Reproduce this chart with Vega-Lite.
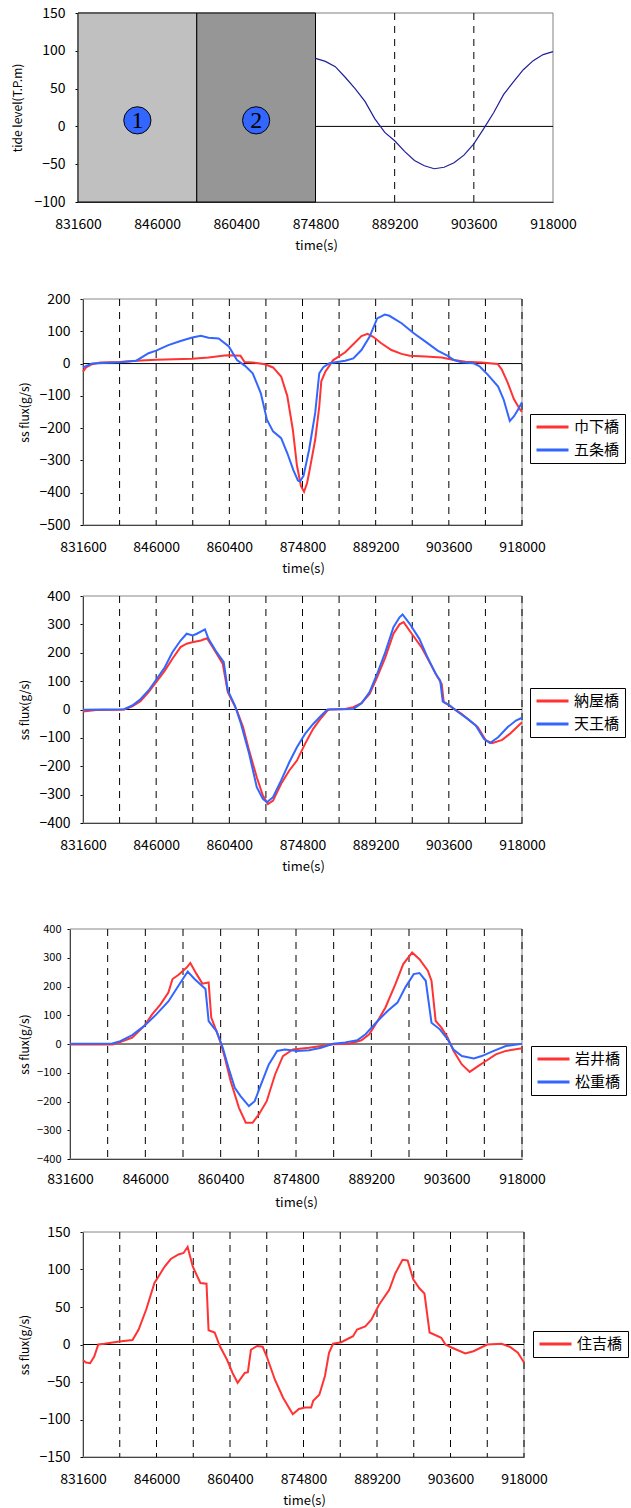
{
"$schema": "https://vega.github.io/schema/vega-lite/v6.json",
"background": "white",
"padding": {"left": 11, "top": 6, "right": 0, "bottom": 0},
"spacing": 0,
"resolve": {"scale": {"x": "independent", "y": "independent", "color": "independent", "fill": "independent"}},
"datasets": {
"frame": [{"t":831600,"t2":918000}],
"zero": [{"t":831600,"t2":918000,"v":0}],
"dash": [{"t":838800},{"t":846000},{"t":853200},{"t":860400},{"t":867600},{"t":874800},{"t":882000},{"t":889200},{"t":896400},{"t":903600},{"t":910800},{"t":918000}],
"dash1": [{"t":889200},{"t":903600}],
"regions": [{"a":831600,"b":853200,"c":"1"},{"a":853200,"b":874800,"c":"2"}],
"markers": [{"t":842400,"v":8,"c":"1"},{"t":864000,"v":8,"c":"2"}],
"tide": [{"t":874800,"v":90},{"t":876600,"v":86},{"t":878400,"v":79},{"t":880200,"v":65},{"t":882000,"v":50},{"t":883800,"v":33},{"t":885600,"v":10},{"t":887400,"v":-8},{"t":889200,"v":-19},{"t":891000,"v":-33},{"t":892800,"v":-45},{"t":894600,"v":-52},{"t":896400,"v":-56},{"t":898200,"v":-54},{"t":900000,"v":-48},{"t":901800,"v":-38},{"t":903600,"v":-23},{"t":905400,"v":-3},{"t":907200,"v":18},{"t":909000,"v":42},{"t":910800,"v":59},{"t":912600,"v":75},{"t":914400,"v":87},{"t":916200,"v":95},{"t":918000,"v":99}],
"p2": [
{"s":"巾下橋","t":831600,"v":-25},{"s":"巾下橋","t":832200,"v":-12},{"s":"巾下橋","t":833400,"v":-2},{"s":"巾下橋","t":835000,"v":3},{"s":"巾下橋","t":838800,"v":5},{"s":"巾下橋","t":842100,"v":9},{"s":"巾下橋","t":846000,"v":12},{"s":"巾下橋","t":853100,"v":15},{"s":"巾下橋","t":856300,"v":19},{"s":"巾下橋","t":859500,"v":25},{"s":"巾下橋","t":860300,"v":26},{"s":"巾下橋","t":862600,"v":24},{"s":"巾下橋","t":863400,"v":5},{"s":"巾下橋","t":865800,"v":2},{"s":"巾下橋","t":867400,"v":-2},{"s":"巾下橋","t":869000,"v":-12},{"s":"巾下橋","t":870600,"v":-40},{"s":"巾下橋","t":871800,"v":-100},{"s":"巾下橋","t":872900,"v":-205},{"s":"巾下橋","t":873700,"v":-315},{"s":"巾下橋","t":874500,"v":-380},{"s":"巾下橋","t":875100,"v":-397},{"s":"巾下橋","t":875700,"v":-370},{"s":"巾下橋","t":876200,"v":-330},{"s":"巾下橋","t":877300,"v":-236},{"s":"巾下橋","t":878100,"v":-133},{"s":"巾下橋","t":878500,"v":-55},{"s":"巾下橋","t":879300,"v":-25},{"s":"巾下橋","t":880800,"v":10},{"s":"巾下橋","t":883200,"v":35},{"s":"巾下橋","t":884800,"v":60},{"s":"巾下橋","t":886400,"v":85},{"s":"巾下橋","t":887600,"v":92},{"s":"巾下橋","t":888700,"v":83},{"s":"巾下橋","t":890300,"v":63},{"s":"巾下橋","t":892300,"v":42},{"s":"巾下橋","t":894300,"v":30},{"s":"巾下橋","t":895900,"v":24},{"s":"巾下橋","t":899000,"v":22},{"s":"巾下橋","t":902200,"v":19},{"s":"巾下橋","t":904600,"v":11},{"s":"巾下橋","t":906900,"v":6},{"s":"巾下橋","t":910100,"v":3},{"s":"巾下橋","t":913200,"v":-1},{"s":"巾下橋","t":914000,"v":-18},{"s":"巾下橋","t":915200,"v":-60},{"s":"巾下橋","t":916400,"v":-110},{"s":"巾下橋","t":917600,"v":-142},{"s":"巾下橋","t":918000,"v":-150},
{"s":"五条橋","t":831600,"v":-12},{"s":"五条橋","t":833400,"v":0},{"s":"五条橋","t":838800,"v":4},{"s":"五条橋","t":842100,"v":9},{"s":"五条橋","t":844500,"v":32},{"s":"五条橋","t":846000,"v":40},{"s":"五条橋","t":848400,"v":57},{"s":"五条橋","t":850800,"v":70},{"s":"五条橋","t":853100,"v":81},{"s":"五条橋","t":854800,"v":86},{"s":"五条橋","t":856300,"v":80},{"s":"五条橋","t":858300,"v":78},{"s":"五条橋","t":860300,"v":53},{"s":"五条橋","t":861900,"v":11},{"s":"五条橋","t":863500,"v":-7},{"s":"五条橋","t":865000,"v":-30},{"s":"五条橋","t":866600,"v":-92},{"s":"五条橋","t":867800,"v":-174},{"s":"五条橋","t":869000,"v":-210},{"s":"五条橋","t":870600,"v":-231},{"s":"五条橋","t":871800,"v":-277},{"s":"五条橋","t":873000,"v":-330},{"s":"五条橋","t":873900,"v":-362},{"s":"五条橋","t":874300,"v":-365},{"s":"五条橋","t":875000,"v":-348},{"s":"五条橋","t":876100,"v":-267},{"s":"五条橋","t":877300,"v":-153},{"s":"五条橋","t":878100,"v":-30},{"s":"五条橋","t":878900,"v":-11},{"s":"五条橋","t":880100,"v":1},{"s":"五条橋","t":883200,"v":9},{"s":"五条橋","t":884800,"v":16},{"s":"五条橋","t":886400,"v":42},{"s":"五条橋","t":888000,"v":83},{"s":"五条橋","t":889500,"v":140},{"s":"五条橋","t":891000,"v":152},{"s":"五条橋","t":891900,"v":148},{"s":"五条橋","t":894300,"v":125},{"s":"五条橋","t":896700,"v":94},{"s":"五条橋","t":899000,"v":68},{"s":"五条橋","t":901400,"v":40},{"s":"五条橋","t":903400,"v":24},{"s":"五条橋","t":904600,"v":11},{"s":"五条橋","t":906100,"v":4},{"s":"五条橋","t":908500,"v":1},{"s":"五条橋","t":909700,"v":-9},{"s":"五条橋","t":911300,"v":-35},{"s":"五条橋","t":913300,"v":-71},{"s":"五条橋","t":914400,"v":-112},{"s":"五条橋","t":915600,"v":-178},{"s":"五条橋","t":916400,"v":-164},{"s":"五条橋","t":917200,"v":-143},{"s":"五条橋","t":918000,"v":-120}],
"p3": [
{"s":"納屋橋","t":831600,"v":-7},{"s":"納屋橋","t":834200,"v":-2},{"s":"納屋橋","t":838800,"v":-1},{"s":"納屋橋","t":839700,"v":0},{"s":"納屋橋","t":841300,"v":11},{"s":"納屋橋","t":842900,"v":29},{"s":"納屋橋","t":844500,"v":61},{"s":"納屋橋","t":846000,"v":96},{"s":"納屋橋","t":847700,"v":137},{"s":"納屋橋","t":849200,"v":179},{"s":"納屋橋","t":850800,"v":220},{"s":"納屋橋","t":852000,"v":232},{"s":"納屋橋","t":853100,"v":237},{"s":"納屋橋","t":854800,"v":243},{"s":"納屋橋","t":856000,"v":251},{"s":"納屋橋","t":857100,"v":220},{"s":"納屋橋","t":859100,"v":161},{"s":"納屋橋","t":860100,"v":61},{"s":"納屋橋","t":861900,"v":-4},{"s":"納屋橋","t":863100,"v":-62},{"s":"納屋橋","t":864300,"v":-145},{"s":"納屋橋","t":865800,"v":-239},{"s":"納屋橋","t":867000,"v":-303},{"s":"納屋橋","t":868000,"v":-333},{"s":"納屋橋","t":869000,"v":-321},{"s":"納屋橋","t":870600,"v":-262},{"s":"納屋橋","t":872200,"v":-215},{"s":"納屋橋","t":873700,"v":-180},{"s":"納屋橋","t":875300,"v":-121},{"s":"納屋橋","t":876900,"v":-68},{"s":"納屋橋","t":878500,"v":-29},{"s":"納屋橋","t":879700,"v":-4},{"s":"納屋橋","t":880100,"v":0},{"s":"納屋橋","t":883200,"v":2},{"s":"納屋橋","t":884800,"v":8},{"s":"納屋橋","t":886400,"v":22},{"s":"納屋橋","t":888000,"v":55},{"s":"納屋橋","t":889500,"v":114},{"s":"納屋橋","t":891100,"v":184},{"s":"納屋橋","t":892700,"v":267},{"s":"納屋橋","t":893900,"v":300},{"s":"納屋橋","t":894700,"v":308},{"s":"納屋橋","t":896300,"v":267},{"s":"納屋橋","t":898200,"v":220},{"s":"納屋橋","t":899800,"v":167},{"s":"納屋橋","t":901400,"v":114},{"s":"納屋橋","t":902200,"v":90},{"s":"納屋橋","t":902600,"v":26},{"s":"納屋橋","t":903400,"v":18},{"s":"納屋橋","t":904600,"v":2},{"s":"納屋橋","t":906100,"v":-15},{"s":"納屋橋","t":907700,"v":-39},{"s":"納屋橋","t":909300,"v":-62},{"s":"納屋橋","t":910900,"v":-109},{"s":"納屋橋","t":912100,"v":-119},{"s":"納屋橋","t":914100,"v":-107},{"s":"納屋橋","t":915600,"v":-86},{"s":"納屋橋","t":918000,"v":-45},
{"s":"天王橋","t":831600,"v":-1},{"s":"天王橋","t":839700,"v":1},{"s":"天王橋","t":841300,"v":14},{"s":"天王橋","t":842900,"v":36},{"s":"天王橋","t":844500,"v":67},{"s":"天王橋","t":846000,"v":105},{"s":"天王橋","t":847700,"v":149},{"s":"天王橋","t":849200,"v":202},{"s":"天王橋","t":850800,"v":243},{"s":"天王橋","t":852000,"v":267},{"s":"天王橋","t":853200,"v":261},{"s":"天王橋","t":854000,"v":267},{"s":"天王橋","t":855600,"v":282},{"s":"天王橋","t":856300,"v":249},{"s":"天王橋","t":857900,"v":202},{"s":"天王橋","t":859300,"v":167},{"s":"天王橋","t":860100,"v":67},{"s":"天王橋","t":861500,"v":14},{"s":"天王橋","t":862700,"v":-51},{"s":"天王橋","t":864300,"v":-156},{"s":"天王橋","t":865800,"v":-274},{"s":"天王橋","t":867000,"v":-315},{"s":"天王橋","t":867800,"v":-327},{"s":"天王橋","t":869000,"v":-309},{"s":"天王橋","t":870600,"v":-250},{"s":"天王橋","t":872200,"v":-186},{"s":"天王橋","t":873700,"v":-133},{"s":"天王橋","t":875300,"v":-86},{"s":"天王橋","t":876900,"v":-51},{"s":"天王橋","t":878500,"v":-21},{"s":"天王橋","t":879700,"v":0},{"s":"天王橋","t":884800,"v":2},{"s":"天王橋","t":886400,"v":22},{"s":"天王橋","t":888000,"v":61},{"s":"天王橋","t":889500,"v":126},{"s":"天王橋","t":891100,"v":202},{"s":"天王橋","t":892700,"v":290},{"s":"天王橋","t":893900,"v":325},{"s":"天王橋","t":894500,"v":335},{"s":"天王橋","t":895900,"v":302},{"s":"天王橋","t":897800,"v":249},{"s":"天王橋","t":899400,"v":184},{"s":"天王橋","t":901000,"v":126},{"s":"天王橋","t":901900,"v":102},{"s":"天王橋","t":902400,"v":29},{"s":"天王橋","t":903800,"v":14},{"s":"天王橋","t":905400,"v":-9},{"s":"天王橋","t":907300,"v":-33},{"s":"天王橋","t":908900,"v":-56},{"s":"天王橋","t":910500,"v":-103},{"s":"天王橋","t":911700,"v":-118},{"s":"天王橋","t":913300,"v":-98},{"s":"天王橋","t":915200,"v":-62},{"s":"天王橋","t":916800,"v":-39},{"s":"天王橋","t":918000,"v":-29}],
"p4": [
{"s":"岩井橋","t":831600,"v":-2},{"s":"岩井橋","t":839700,"v":-2},{"s":"岩井橋","t":841200,"v":7},{"s":"岩井橋","t":843500,"v":22},{"s":"岩井橋","t":845800,"v":63},{"s":"岩井橋","t":847300,"v":103},{"s":"岩井橋","t":848900,"v":138},{"s":"岩井橋","t":850400,"v":179},{"s":"岩井橋","t":851200,"v":226},{"s":"岩井橋","t":852300,"v":240},{"s":"岩井橋","t":853900,"v":266},{"s":"岩井橋","t":854600,"v":282},{"s":"岩井橋","t":855800,"v":243},{"s":"岩井橋","t":856900,"v":210},{"s":"岩井橋","t":858100,"v":214},{"s":"岩井橋","t":858600,"v":92},{"s":"岩井橋","t":859600,"v":45},{"s":"岩井橋","t":860400,"v":5},{"s":"岩井橋","t":861200,"v":-48},{"s":"岩井橋","t":862300,"v":-129},{"s":"岩井橋","t":863900,"v":-222},{"s":"岩井橋","t":865200,"v":-274},{"s":"岩井橋","t":866500,"v":-274},{"s":"岩井橋","t":867700,"v":-245},{"s":"岩井橋","t":869200,"v":-199},{"s":"岩井橋","t":870800,"v":-106},{"s":"岩井橋","t":872300,"v":-42},{"s":"岩井橋","t":874200,"v":-19},{"s":"岩井橋","t":877300,"v":-13},{"s":"岩井橋","t":879600,"v":-7},{"s":"岩井橋","t":881900,"v":-1},{"s":"岩井橋","t":885000,"v":1},{"s":"岩井橋","t":887300,"v":13},{"s":"岩井橋","t":888800,"v":34},{"s":"岩井橋","t":890400,"v":80},{"s":"岩井橋","t":891900,"v":127},{"s":"岩井橋","t":893800,"v":208},{"s":"岩井橋","t":895300,"v":278},{"s":"岩井橋","t":897000,"v":318},{"s":"岩井橋","t":898400,"v":295},{"s":"岩井橋","t":900000,"v":255},{"s":"岩井橋","t":900700,"v":220},{"s":"岩井橋","t":901500,"v":80},{"s":"岩井橋","t":902600,"v":57},{"s":"岩井橋","t":903800,"v":22},{"s":"岩井橋","t":904900,"v":-24},{"s":"岩井橋","t":906500,"v":-71},{"s":"岩井橋","t":908000,"v":-97},{"s":"岩井橋","t":909600,"v":-77},{"s":"岩井橋","t":911100,"v":-59},{"s":"岩井橋","t":913000,"v":-36},{"s":"岩井橋","t":914900,"v":-24},{"s":"岩井橋","t":918000,"v":-15},
{"s":"松重橋","t":831600,"v":1},{"s":"松重橋","t":839700,"v":2},{"s":"松重橋","t":841200,"v":10},{"s":"松重橋","t":843500,"v":31},{"s":"松重橋","t":845800,"v":63},{"s":"松重橋","t":848100,"v":103},{"s":"松重橋","t":850400,"v":148},{"s":"松重橋","t":852300,"v":202},{"s":"松重橋","t":854100,"v":252},{"s":"松重橋","t":855400,"v":226},{"s":"松重橋","t":857500,"v":191},{"s":"松重橋","t":858100,"v":80},{"s":"松重橋","t":859600,"v":45},{"s":"松重橋","t":860800,"v":-13},{"s":"松重橋","t":861900,"v":-83},{"s":"松重橋","t":863100,"v":-152},{"s":"松重橋","t":864200,"v":-181},{"s":"松重橋","t":865800,"v":-216},{"s":"松重橋","t":866900,"v":-199},{"s":"松重橋","t":868100,"v":-141},{"s":"松重橋","t":869600,"v":-71},{"s":"松重橋","t":871200,"v":-24},{"s":"松重橋","t":872700,"v":-19},{"s":"松重橋","t":875000,"v":-24},{"s":"松重橋","t":877300,"v":-22},{"s":"松重橋","t":879600,"v":-13},{"s":"松重橋","t":881900,"v":1},{"s":"松重橋","t":884200,"v":5},{"s":"松重橋","t":886500,"v":13},{"s":"松重橋","t":888100,"v":34},{"s":"松重橋","t":890400,"v":80},{"s":"松重橋","t":892300,"v":115},{"s":"松重橋","t":894200,"v":144},{"s":"松重橋","t":895700,"v":197},{"s":"松重橋","t":897300,"v":243},{"s":"松重橋","t":898400,"v":247},{"s":"松重橋","t":899600,"v":220},{"s":"松重橋","t":900700,"v":74},{"s":"松重橋","t":902300,"v":51},{"s":"松重橋","t":903800,"v":16},{"s":"松重橋","t":904900,"v":-19},{"s":"松重橋","t":906500,"v":-42},{"s":"松重橋","t":908800,"v":-50},{"s":"松重橋","t":910300,"v":-42},{"s":"松重橋","t":912600,"v":-24},{"s":"松重橋","t":914900,"v":-7},{"s":"松重橋","t":918000,"v":1}],
"p5": [
{"s":"住吉橋","t":831600,"v":-21},{"s":"住吉橋","t":832200,"v":-24},{"s":"住吉橋","t":833000,"v":-25},{"s":"住吉橋","t":833800,"v":-16},{"s":"住吉橋","t":834600,"v":0},{"s":"住吉橋","t":835800,"v":1},{"s":"住吉橋","t":838700,"v":4},{"s":"住吉橋","t":841300,"v":6},{"s":"住吉橋","t":842500,"v":20},{"s":"住吉橋","t":844000,"v":47},{"s":"住吉橋","t":845600,"v":82},{"s":"住吉橋","t":847600,"v":104},{"s":"住吉橋","t":848800,"v":114},{"s":"住吉橋","t":850300,"v":120},{"s":"住吉橋","t":851300,"v":122},{"s":"住吉橋","t":852100,"v":130},{"s":"住吉橋","t":853100,"v":104},{"s":"住吉橋","t":854600,"v":82},{"s":"住吉橋","t":855800,"v":81},{"s":"住吉橋","t":856200,"v":19},{"s":"住吉橋","t":857400,"v":16},{"s":"住吉橋","t":858400,"v":-2},{"s":"住吉橋","t":859800,"v":-20},{"s":"住吉橋","t":860900,"v":-38},{"s":"住吉橋","t":861900,"v":-51},{"s":"住吉橋","t":863300,"v":-38},{"s":"住吉橋","t":863900,"v":-37},{"s":"住吉橋","t":864500,"v":-7},{"s":"住吉橋","t":865700,"v":-2},{"s":"住吉橋","t":866800,"v":-3},{"s":"住吉橋","t":867600,"v":-16},{"s":"住吉橋","t":869200,"v":-47},{"s":"住吉橋","t":870800,"v":-71},{"s":"住吉橋","t":872700,"v":-93},{"s":"住吉橋","t":873900,"v":-86},{"s":"住吉橋","t":875100,"v":-84},{"s":"住吉橋","t":876300,"v":-84},{"s":"住吉橋","t":876700,"v":-75},{"s":"住吉橋","t":877900,"v":-67},{"s":"住吉橋","t":879000,"v":-42},{"s":"住吉橋","t":879800,"v":-11},{"s":"住吉橋","t":880600,"v":1},{"s":"住吉橋","t":882200,"v":3},{"s":"住吉橋","t":884500,"v":11},{"s":"住吉橋","t":885300,"v":20},{"s":"住吉橋","t":886900,"v":24},{"s":"住吉橋","t":888100,"v":33},{"s":"住吉橋","t":889600,"v":53},{"s":"住吉橋","t":891600,"v":73},{"s":"住吉橋","t":892800,"v":95},{"s":"住吉橋","t":894200,"v":113},{"s":"住吉橋","t":895200,"v":112},{"s":"住吉橋","t":896300,"v":87},{"s":"住吉橋","t":897500,"v":75},{"s":"住吉橋","t":898500,"v":68},{"s":"住吉橋","t":899500,"v":16},{"s":"住吉橋","t":901800,"v":9},{"s":"住吉橋","t":902600,"v":0},{"s":"住吉橋","t":903800,"v":-4},{"s":"住吉橋","t":906500,"v":-12},{"s":"住吉橋","t":908100,"v":-9},{"s":"住吉橋","t":910800,"v":0},{"s":"住吉橋","t":913600,"v":1},{"s":"住吉橋","t":915200,"v":-3},{"s":"住吉橋","t":916800,"v":-11},{"s":"住吉橋","t":918000,"v":-24}]
},
"vconcat": [
{
"width": 483, "height": 189,
"encoding": {
  "x": {"field": "t", "type": "quantitative", "scale": {"domain": [831600, 918000], "range": [8, 483], "nice": false, "zero": false},
        "axis": {"values": [831600,846000,860400,874800,889200,903600,918000], "format": "d", "title": "time(s)", "titleX": 246, "labelOverlap": false}},
  "y": {"field": "v", "type": "quantitative", "scale": {"domain": [-100, 150], "nice": false, "zero": false},
        "axis": {"values": [-100,-50,0,50,100,150], "format": "d", "title": "tide level(T.P.m)", "offset": -8, "titleX": -61, "labelOverlap": false}}
},
"layer": [
{"data": {"name": "frame"}, "mark": {"type": "rect", "fill": "transparent", "stroke": "#808080", "strokeWidth": 1},
 "encoding": {"x2": {"field": "t2"}, "y": null}},
{"data": {"name": "zero"}, "mark": {"type": "rule", "color": "black", "strokeWidth": 1},
 "encoding": {"x2": {"field": "t2"}}},
{"data": {"name": "regions"}, "mark": {"type": "rect", "stroke": "black", "strokeWidth": 1, "opacity": 1},
 "encoding": {"x": {"field": "a"}, "x2": {"field": "b"}, "y": null,
  "fill": {"field": "c", "type": "nominal", "scale": {"domain": ["1","2"], "range": ["#C0C0C0", "#969696"]}, "legend": null}}},
{"data": {"name": "dash1"}, "mark": {"type": "rule", "color": "black", "strokeWidth": 1, "strokeDash": [7, 6]},
 "encoding": {"y": null}},
{"data": {"name": "tide"}, "mark": {"type": "line", "color": "#1F1F99", "strokeWidth": 1.2}},
{"data": {"name": "markers"}, "mark": {"type": "point", "shape": "circle", "filled": true, "fill": "#3366FF", "stroke": "black", "strokeWidth": 1, "size": 740, "opacity": 1}},
{"data": {"name": "markers"}, "mark": {"type": "text", "font": "Liberation Serif", "fontSize": 24, "color": "black", "baseline": "middle", "align": "center", "dy": 1},
 "encoding": {"text": {"field": "c"}}}
]
},
{
"width": 452, "height": 226,
"title": {"text": " ", "offset": 30, "fontSize": 10},
"encoding": {
  "x": {"field": "t", "type": "quantitative", "scale": {"domain": [831600, 918000], "range": [13, 452], "nice": false, "zero": false},
        "axis": {"values": [831600,846000,860400,874800,889200,903600,918000], "format": "d", "title": "time(s)", "titleX": 233, "labelOverlap": false}},
  "y": {"field": "v", "type": "quantitative", "scale": {"domain": [-500, 200], "nice": false, "zero": false},
        "axis": {"values": [-500,-400,-300,-200,-100,0,100,200], "format": "d", "title": "ss flux(g/s)", "offset": -13, "titleX": -59, "labelOverlap": false}}
},
"layer": [
{"data": {"name": "frame"}, "mark": {"type": "rect", "fill": "transparent", "stroke": "#888888", "strokeWidth": 1},
 "encoding": {"x2": {"field": "t2"}, "y": null}},
{"data": {"name": "zero"}, "mark": {"type": "rule", "color": "black", "strokeWidth": 1},
 "encoding": {"x2": {"field": "t2"}}},
{"data": {"name": "dash"}, "mark": {"type": "rule", "color": "black", "strokeWidth": 1, "strokeDash": [7, 6]},
 "encoding": {"y": null}},
{"data": {"name": "p2"}, "mark": {"type": "line", "strokeWidth": 2},
 "encoding": {
  "color": {"field": "s", "type": "nominal", "scale": {"domain": ["巾下橋", "五条橋"], "range": ["#FF3333", "#3366FF"]},
   "legend": {"orient": "none", "legendX": 460, "legendY": 115}}}}
]
},
{
"width": 452, "height": 227,
"title": {"text": " ", "offset": 4, "fontSize": 10},
"encoding": {
  "x": {"field": "t", "type": "quantitative", "scale": {"domain": [831600, 918000], "range": [13, 452], "nice": false, "zero": false},
        "axis": {"values": [831600,846000,860400,874800,889200,903600,918000], "format": "d", "title": "time(s)", "titleX": 233, "labelOverlap": false}},
  "y": {"field": "v", "type": "quantitative", "scale": {"domain": [-400, 400], "nice": false, "zero": false},
        "axis": {"values": [-400,-300,-200,-100,0,100,200,300,400], "format": "d", "title": "ss flux(g/s)", "offset": -13, "titleX": -59, "labelOverlap": false}}
},
"layer": [
{"data": {"name": "frame"}, "mark": {"type": "rect", "fill": "transparent", "stroke": "#888888", "strokeWidth": 1},
 "encoding": {"x2": {"field": "t2"}, "y": null}},
{"data": {"name": "zero"}, "mark": {"type": "rule", "color": "black", "strokeWidth": 1},
 "encoding": {"x2": {"field": "t2"}}},
{"data": {"name": "dash"}, "mark": {"type": "rule", "color": "black", "strokeWidth": 1, "strokeDash": [7, 6]},
 "encoding": {"y": null}},
{"data": {"name": "p3"}, "mark": {"type": "line", "strokeWidth": 2},
 "encoding": {
  "color": {"field": "s", "type": "nominal", "scale": {"domain": ["納屋橋", "天王橋"], "range": ["#FF3333", "#3366FF"]},
   "legend": {"orient": "none", "legendX": 460, "legendY": 92}}}}
]
},
{
"width": 452, "height": 230,
"title": {"text": " ", "offset": 40, "fontSize": 10},
"encoding": {
  "x": {"field": "t", "type": "quantitative", "scale": {"domain": [831600, 918000], "range": [0, 452], "nice": false, "zero": false},
        "axis": {"values": [831600,846000,860400,874800,889200,903600,918000], "format": "d", "title": "time(s)", "titleX": 226, "labelPadding": 13, "labelOverlap": false}},
  "y": {"field": "v", "type": "quantitative", "scale": {"domain": [-400, 400], "nice": false, "zero": false},
        "axis": {"values": [-400,-300,-200,-100,0,100,200,300,400], "format": "d", "title": "ss flux(g/s)", "titleX": -46, "labelFontSize": 11, "labelPadding": 6, "labelOverlap": false}}
},
"layer": [
{"data": {"name": "frame"}, "mark": {"type": "rect", "fill": "transparent", "stroke": "#888888", "strokeWidth": 1},
 "encoding": {"x2": {"field": "t2"}, "y": null}},
{"data": {"name": "zero"}, "mark": {"type": "rule", "color": "black", "strokeWidth": 1},
 "encoding": {"x2": {"field": "t2"}}},
{"data": {"name": "dash"}, "mark": {"type": "rule", "color": "black", "strokeWidth": 1, "strokeDash": [7, 6]},
 "encoding": {"y": null}},
{"data": {"name": "p4"}, "mark": {"type": "line", "strokeWidth": 2},
 "encoding": {
  "color": {"field": "s", "type": "nominal", "scale": {"domain": ["岩井橋", "松重橋"], "range": ["#FF3333", "#3366FF"]},
   "legend": {"orient": "none", "legendX": 461, "legendY": 117}}}}
]
},
{
"width": 454, "height": 225,
"title": {"text": " ", "offset": 6, "fontSize": 10},
"encoding": {
  "x": {"field": "t", "type": "quantitative", "scale": {"domain": [831600, 918000], "range": [13, 454], "nice": false, "zero": false},
        "axis": {"values": [831600,846000,860400,874800,889200,903600,918000], "format": "d", "title": "time(s)", "titleX": 234, "labelOverlap": false}},
  "y": {"field": "v", "type": "quantitative", "scale": {"domain": [-150, 150], "nice": false, "zero": false},
        "axis": {"values": [-150,-100,-50,0,50,100,150], "format": "d", "title": "ss flux(g/s)", "offset": -13, "titleX": -59, "labelOverlap": false}}
},
"layer": [
{"data": {"name": "frame"}, "mark": {"type": "rect", "fill": "transparent", "stroke": "#888888", "strokeWidth": 1},
 "encoding": {"x2": {"field": "t2"}, "y": null}},
{"data": {"name": "zero"}, "mark": {"type": "rule", "color": "black", "strokeWidth": 1},
 "encoding": {"x2": {"field": "t2"}}},
{"data": {"name": "dash"}, "mark": {"type": "rule", "color": "black", "strokeWidth": 1, "strokeDash": [7, 6]},
 "encoding": {"y": null}},
{"data": {"name": "p5"}, "mark": {"type": "line", "strokeWidth": 2},
 "encoding": {
  "color": {"field": "s", "type": "nominal", "scale": {"domain": ["住吉橋"], "range": ["#FF3333"]},
   "legend": {"orient": "none", "legendX": 463, "legendY": 99}}}}
]
}
],
"config": {
 "view": {"stroke": null},
 "font": "Noto Sans CJK JP",
 "axis": {"grid": false, "domainColor": "black", "tickColor": "black", "labelColor": "black", "titleColor": "black", "titleFontWeight": "normal", "labelFontSize": 14, "titleFontSize": 12, "zindex": 1, "labelFlush": false, "labelOverlap": false, "labelFont": "Noto Sans CJK JP", "titleFont": "Noto Sans CJK JP"},
 "axisX": {"ticks": false, "tickSize": 0, "labelPadding": 15, "titleBaseline": "middle", "titleY": 43, "titleFontSize": 13},
 "axisY": {"tickSize": 3, "labelPadding": 10, "titleBaseline": "middle", "titleAngle": -90},
 "legend": {"title": null, "strokeColor": "black", "fillColor": "white", "padding": 5, "symbolType": "stroke", "symbolSize": 1024, "symbolStrokeWidth": 3, "clipHeight": 16, "labelFontSize": 15, "labelFont": "Noto Sans CJK JP", "labelColor": "black", "rowPadding": 7, "labelOffset": 4, "cornerRadius": 0},
 "title": {"fontSize": 10}
}
}
